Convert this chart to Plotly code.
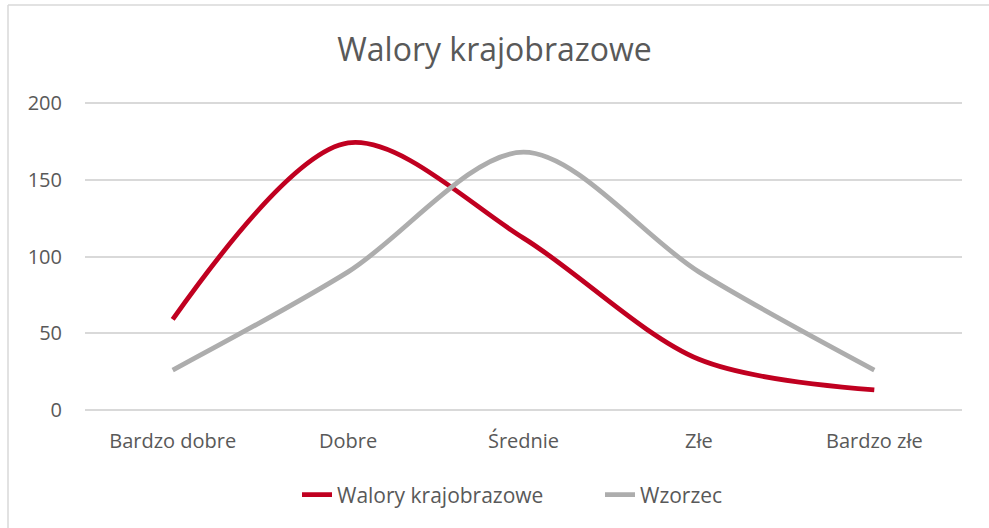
import plotly.graph_objects as go

categories = ["Bardzo dobre", "Dobre", "Średnie", "Złe", "Bardzo złe"]
walory = [59, 174, 112, 33, 13]
wzorzec = [26, 90, 168, 90, 26]
y_ticks = [0, 50, 100, 150, 200]

FONT = "Open Sans"
TXT = "#595959"

fig = go.Figure()
fig.add_trace(go.Scatter(
    x=categories, y=walory, name="Walory krajobrazowe", mode="lines",
    line=dict(color="#C00020", width=4.8, shape="spline", smoothing=0.9),
))
fig.add_trace(go.Scatter(
    x=categories, y=wzorzec, name="Wzorzec", mode="lines",
    line=dict(color="#ADADAD", width=4.8, shape="spline", smoothing=0.9),
))

L, R, T, B = 85, 27, 102, 117
W, H = 989, 528
pw, ph = W - L - R, H - T - B

fig.update_layout(
    width=W, height=H,
    margin=dict(l=L, r=R, t=T, b=B),
    paper_bgcolor="white", plot_bgcolor="white",
    font=dict(family=FONT, color=TXT, size=20),
    title=dict(text="Walory krajobrazowe", x=0.5, xanchor="center",
               y=1 - 50 / H, yanchor="middle",
               font=dict(size=32, color=TXT, family=FONT)),
    showlegend=True,
    legend=dict(orientation="h", x=(297 - L) / pw, xanchor="left", y=-(494 - 410) / ph,
                yanchor="middle", font=dict(size=21, color=TXT, family=FONT),
                entrywidth=258, entrywidthmode="pixels", tracegroupgap=0),
    xaxis=dict(type="category", range=[-0.5, 4.5], showgrid=False, zeroline=False,
               showline=False, ticks="", tickfont=dict(size=20, color=TXT),
               ticklabelstandoff=16),
    yaxis=dict(range=[-0.7, 200.7], tickvals=y_ticks, showgrid=True, gridcolor="#D9D9D9",
               gridwidth=1.5, zeroline=False, showline=False, ticks="",
               tickfont=dict(size=20, color=TXT), ticklabelstandoff=22),
    shapes=[
        dict(type="line", xref="paper", yref="paper",
             x0=(8 - L) / pw, x1=(8 - L) / pw, y0=(H - B - 5) / ph, y1=(H - B - H) / ph,
             line=dict(color="#D9D9D9", width=1.5)),
        dict(type="line", xref="paper", yref="paper",
             x0=(8 - L) / pw, x1=(W - L) / pw, y0=(H - B - 5) / ph, y1=(H - B - 5) / ph,
             line=dict(color="#D9D9D9", width=1.5)),
    ],
)

fig.write_html("out.html", config={"displayModeBar": False},
               post_script="document.body.style.margin='0';")
